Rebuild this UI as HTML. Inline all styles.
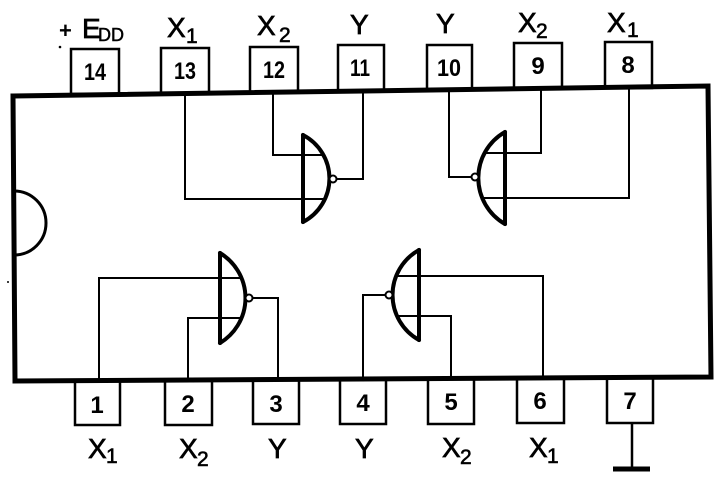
<!DOCTYPE html>
<html>
<head>
<meta charset="utf-8">
<style>
  html, body { margin: 0; padding: 0; background: #fff; }
  svg { display: block; }
  text { font-family: "Liberation Sans", "DejaVu Sans", sans-serif; fill: #000; }
  .lbl { font-size: 28px; stroke: #000; stroke-width: 0.7px; }
  .sub { font-size: 21px; stroke: #000; stroke-width: 0.6px; }
  .num { font-size: 24px; font-weight: bold; }
</style>
</head>
<body>
<svg width="720" height="491" viewBox="0 0 720 491" xmlns="http://www.w3.org/2000/svg">
  <rect width="720" height="491" fill="#fff"/>

  <!-- Top pins -->
  <g fill="#fff" stroke="#000" stroke-width="2.5">
    <rect x="71" y="49" width="48" height="45"/>
    <rect x="161" y="48" width="48" height="45"/>
    <rect x="250" y="47" width="48" height="45"/>
    <rect x="338" y="45" width="46" height="46"/>
    <rect x="427" y="45" width="45" height="45"/>
    <rect x="514" y="43" width="48" height="46"/>
    <rect x="605" y="42" width="47" height="46"/>
  </g>
  <!-- Bottom pins -->
  <g fill="#fff" stroke="#000" stroke-width="2.5">
    <rect x="75" y="380" width="45" height="45"/>
    <rect x="165" y="380" width="47" height="45"/>
    <rect x="253" y="379" width="46" height="45"/>
    <rect x="340" y="379" width="46" height="45"/>
    <rect x="428" y="378" width="46" height="46"/>
    <rect x="517" y="378" width="47" height="45"/>
    <rect x="607" y="377" width="46" height="46"/>
  </g>

  <!-- Main package body -->
  <path d="M13,96 L708,86 L711,377 L15,381 Z" fill="none" stroke="#000" stroke-width="5" stroke-linejoin="miter"/>
  <!-- Notch -->
  <path d="M14,191 A32,32 0 0 1 14,255" fill="none" stroke="#000" stroke-width="3"/>

  <!-- Ground -->
  <line x1="632" y1="423" x2="632" y2="468" stroke="#000" stroke-width="2.5"/>
  <line x1="613" y1="469" x2="650" y2="469" stroke="#000" stroke-width="5"/>

  <!-- Wiring (thin) -->
  <g fill="none" stroke="#000" stroke-width="2">
    <polyline points="336.5,179 363,179 363,91"/>
    <polyline points="273,92 273,155 324,155"/>
    <polyline points="185,93 185,199 326,199"/>
    <polyline points="471.5,177 449,177 449,90"/>
    <polyline points="485,153 541,153 541,89"/>
    <polyline points="482,198 629,198 629,88"/>
    <polyline points="252.5,298 278,298 278,380"/>
    <polyline points="99,381 99,278 242,278"/>
    <polyline points="188,381 188,318 242,318"/>
    <polyline points="385.5,295 363,295 363,380"/>
    <polyline points="396,276 543,276 543,379"/>
    <polyline points="397,316 451,316 451,379"/>
  </g>

  <!-- Gate bodies (thick) -->
  <g fill="none" stroke="#000" stroke-width="4" stroke-linecap="round">
    <line x1="303" y1="135" x2="303" y2="222"/>
    <path d="M303,135 A49,49 0 0 1 303,222"/>
    <line x1="505" y1="132" x2="505" y2="224"/>
    <path d="M505,132 A53,53 0 0 0 505,224"/>
    <line x1="220" y1="253" x2="220" y2="343"/>
    <path d="M220,253 A52.5,52.5 0 0 1 220,343"/>
    <line x1="419" y1="250" x2="419" y2="340"/>
    <path d="M419,250 A51.5,51.5 0 0 0 419,340"/>
  </g>
  <!-- Bubbles -->
  <g fill="#fff" stroke="#000" stroke-width="2">
    <circle cx="333" cy="179" r="3.5"/>
    <circle cx="475" cy="177" r="3.5"/>
    <circle cx="249" cy="298" r="3.5"/>
    <circle cx="389" cy="295" r="3.5"/>
  </g>

  <!-- Pin numbers -->
  <g class="num" text-anchor="middle">
    <text x="95" y="80" textLength="22" lengthAdjust="spacingAndGlyphs">14</text>
    <text x="185" y="79" textLength="22" lengthAdjust="spacingAndGlyphs">13</text>
    <text x="274" y="78" textLength="22" lengthAdjust="spacingAndGlyphs">12</text>
    <text x="360" y="76" textLength="20" lengthAdjust="spacingAndGlyphs">11</text>
    <text x="449" y="76" textLength="24" lengthAdjust="spacingAndGlyphs">10</text>
    <text x="538" y="74">9</text>
    <text x="628" y="73">8</text>

    <text x="97" y="413">1</text>
    <text x="188" y="412">2</text>
    <text x="276" y="412">3</text>
    <text x="363" y="411">4</text>
    <text x="451" y="410">5</text>
    <text x="540" y="409">6</text>
    <text x="630" y="409">7</text>
  </g>

  <!-- Top labels -->
  <text x="59" y="38" style="font-size:22px;font-weight:bold">+</text>
  <text class="lbl" x="82" y="38">E</text>
  <text x="98" y="41" style="font-size:18px;stroke:#000;stroke-width:0.5px">DD</text>

  <text class="lbl" x="167" y="37">X</text><text class="sub" x="186" y="43">1</text>
  <text class="lbl" x="257" y="35">X</text><text class="sub" x="279" y="42">2</text>
  <text class="lbl" x="350" y="34">Y</text>
  <text class="lbl" x="436" y="33">Y</text>
  <text class="lbl" x="518" y="32">X</text><text class="sub" x="536" y="38">2</text>
  <text class="lbl" x="607" y="32">X</text><text class="sub" x="627" y="37">1</text>

  <!-- Bottom labels -->
  <text class="lbl" x="88" y="458">X</text><text class="sub" x="106" y="463">1</text>
  <text class="lbl" x="179" y="458">X</text><text class="sub" x="197" y="466">2</text>
  <text class="lbl" x="268" y="458">Y</text>
  <text class="lbl" x="355" y="458">Y</text>
  <text class="lbl" x="442" y="457">X</text><text class="sub" x="460" y="464">2</text>
  <text class="lbl" x="529" y="457">X</text><text class="sub" x="547" y="463">1</text>

  <!-- stray print specks -->
  <circle cx="60" cy="47" r="1.3" fill="#000"/>
  <circle cx="8" cy="282" r="1" fill="#000"/>
</svg>
</body>
</html>
